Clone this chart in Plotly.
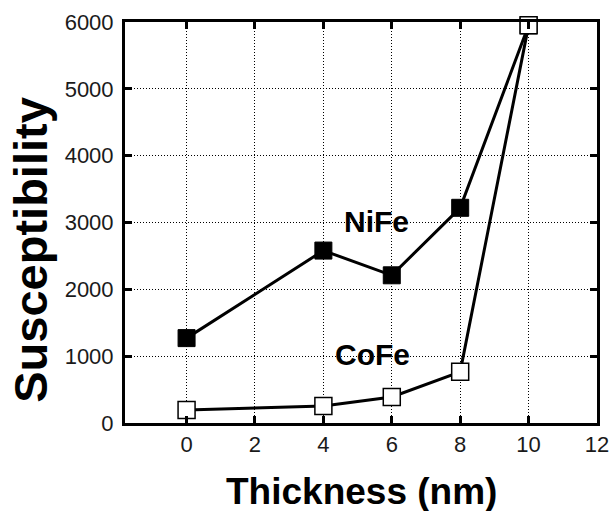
import plotly.graph_objects as go

thickness = [0, 4, 6, 8, 10]
nife = [1270, 2580, 2210, 3220, 5950]
cofe = [195, 255, 390, 765, 5950]
x_ticks = [0, 2, 4, 6, 8, 10, 12]
y_ticks = [0, 1000, 2000, 3000, 4000, 5000, 6000]

FONT = "Liberation Sans, Arial, sans-serif"

fig = go.Figure()
fig.add_trace(go.Scatter(
    x=thickness, y=nife, mode="lines+markers", name="NiFe",
    line=dict(color="black", width=3),
    marker=dict(symbol="square", size=17, color="black", line=dict(color="black", width=1)),
    cliponaxis=False,
))
fig.add_trace(go.Scatter(
    x=thickness, y=cofe, mode="lines+markers", name="CoFe",
    line=dict(color="black", width=3),
    marker=dict(symbol="square", size=17, color="white", line=dict(color="black", width=1.5)),
    cliponaxis=False,
))

fig.add_annotation(x=5.55, y=3020, text="<b>NiFe</b>", showarrow=False,
                   font=dict(family=FONT, size=30, color="black"))
fig.add_annotation(x=5.45, y=1020, text="<b>CoFe</b>", showarrow=False,
                   font=dict(family=FONT, size=30, color="black"))

# axis titles
fig.add_annotation(xref="paper", yref="paper", x=0.5, y=-0.172, yanchor="middle",
                   text="<b>Thickness (nm)</b>", showarrow=False,
                   font=dict(family=FONT, size=37, color="black"))
fig.add_annotation(xref="paper", yref="paper", x=-0.2, xanchor="center",
                   y=0.431, yanchor="middle", textangle=-90,
                   text="<b>Susceptibility</b>", showarrow=False,
                   font=dict(family=FONT, size=47, color="black"))

axis_common = dict(
    showline=True, linewidth=3, linecolor="black", mirror="ticks",
    ticks="inside", ticklen=7, tickwidth=3, tickcolor="black",
    showgrid=True, gridcolor="black", gridwidth=1, griddash="1px,2px",
    zeroline=False, automargin=False, ticklabeloverflow="allow",
    tickfont=dict(family=FONT, size=22, color="#1a1a1a"),
)

fig.update_xaxes(range=[-1.8, 12], tickvals=x_ticks, ticktext=[str(v) for v in x_ticks],
                 **axis_common)
fig.update_yaxes(range=[0, 6000], tickvals=y_ticks, ticktext=[str(v) for v in y_ticks],
                 ticklabelstandoff=4, **axis_common)

fig.update_layout(
    width=609, height=511,
    margin=dict(l=125, r=12, t=22, b=88, autoexpand=False),
    plot_bgcolor="white", paper_bgcolor="white",
    showlegend=False,
)

fig.write_html("out.html", config={"displayModeBar": False},
               post_script="document.body.style.margin='0px';document.body.style.overflow='hidden';")
